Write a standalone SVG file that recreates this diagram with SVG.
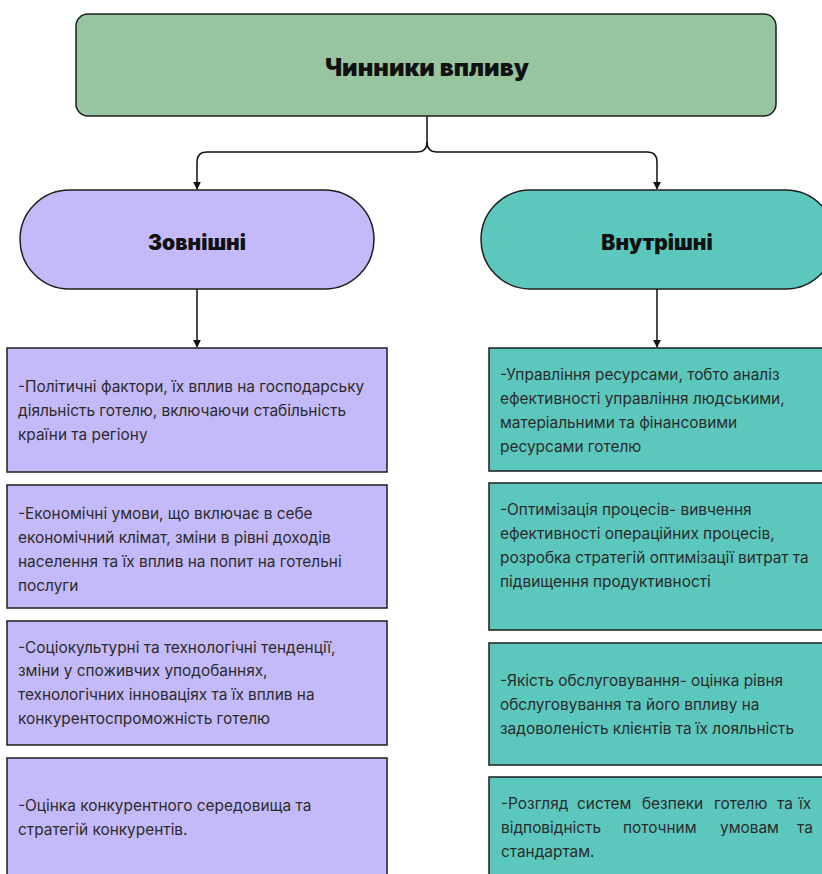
<svg xmlns="http://www.w3.org/2000/svg" width="822" height="874" viewBox="0 0 822 874">
<defs>
<marker id="ah" viewBox="0 0 10 10" refX="9" refY="5" markerWidth="8" markerHeight="8" markerUnits="userSpaceOnUse" orient="auto">
<path d="M0 0 L10 5 L0 10 z" fill="#111"/>
</marker>
<style>
.box{stroke:#1e1e1e;stroke-width:1.5}
.lav{fill:#c5baf9}
.teal{fill:#5cc8bd}
.green{fill:#96c5a0}
.h{font-family:Inter,"Liberation Sans",sans-serif;font-weight:900;font-size:21px;fill:#111;text-anchor:middle;dominant-baseline:central}
.big{font-size:24px}
.t{font-family:Inter,"Liberation Sans",sans-serif;font-size:15.4px;fill:#2b2b2b}
.c{fill:none;stroke:#111;stroke-width:1.5}
</style>
</defs>
<rect width="822" height="874" fill="#fff"/>
<g id="connectors">
<path class="c" d="M427 116 V142 Q427 152 417 152 H207 Q197 152 197 162 V189" marker-end="url(#ah)"/>
<path class="c" d="M427 142 Q427 152 437 152 H647 Q657 152 657 162 V189" marker-end="url(#ah)"/>
<path class="c" d="M197 289 V347" marker-end="url(#ah)"/>
<path class="c" d="M657 289 V347" marker-end="url(#ah)"/>
</g>
<g id="root">
<rect class="box green" x="76" y="14" width="700" height="102" rx="12" stroke-width="2"/>
<text class="h big" x="427" y="67">Чинники впливу</text>
</g>
<g id="ext">
<rect class="box lav" x="20" y="190" width="354" height="99" rx="49.5"/>
<text class="h" x="197" y="242">Зовнішні</text>
</g>
<g id="int">
<rect class="box teal" x="481" y="190" width="354" height="99" rx="49.5"/>
<text class="h" x="657" y="242">Внутрішні</text>
</g>
<g id="e1">
<rect class="box lav" x="7" y="348" width="380" height="124"/>
<text class="t"><tspan x="18" y="392">-Політичні фактори, їх вплив на господарську</tspan><tspan x="18" y="416">діяльність готелю, включаючи стабільність</tspan><tspan x="18" y="440">країни та регіону</tspan></text>
</g>
<g id="e2">
<rect class="box lav" x="7" y="485" width="380" height="123"/>
<text class="t"><tspan x="18" y="519">-Економічні умови, що включає в себе</tspan><tspan x="18" y="543">економічний клімат, зміни в рівні доходів</tspan><tspan x="18" y="567">населення та їх вплив на попит на готельні</tspan><tspan x="18" y="591">послуги</tspan></text>
</g>
<g id="e3">
<rect class="box lav" x="7" y="621" width="380" height="124"/>
<text class="t"><tspan x="18" y="653">-Соціокультурні та технологічні тенденції,</tspan><tspan x="18" y="676">зміни у споживчих уподобаннях,</tspan><tspan x="18" y="700">технологічних інноваціях та їх вплив на</tspan><tspan x="18" y="724">конкурентоспроможність готелю</tspan></text>
</g>
<g id="e4">
<rect class="box lav" x="7" y="758" width="380" height="130"/>
<text class="t"><tspan x="18" y="811">-Оцінка конкурентного середовища та</tspan><tspan x="18" y="835">стратегій конкурентів.</tspan></text>
</g>
<g id="i1">
<rect class="box teal" x="489" y="348" width="340" height="123"/>
<text class="t"><tspan x="500" y="380">-Управління ресурсами, тобто аналіз</tspan><tspan x="500" y="404">ефективності управління людськими,</tspan><tspan x="500" y="428">матеріальними та фінансовими</tspan><tspan x="500" y="452">ресурсами готелю</tspan></text>
</g>
<g id="i2">
<rect class="box teal" x="489" y="483" width="340" height="147"/>
<text class="t"><tspan x="500" y="515">-Оптимізація процесів- вивчення</tspan><tspan x="500" y="539">ефективності операційних процесів,</tspan><tspan x="500" y="563">розробка стратегій оптимізації витрат та</tspan><tspan x="500" y="587">підвищення продуктивності</tspan></text>
</g>
<g id="i3">
<rect class="box teal" x="489" y="643" width="340" height="122"/>
<text class="t"><tspan x="500" y="686">-Якість обслуговування- оцінка рівня</tspan><tspan x="500" y="710">обслуговування та його впливу на</tspan><tspan x="500" y="734">задоволеність клієнтів та їх лояльність</tspan></text>
</g>
<g id="i4">
<rect class="box teal" x="489" y="777" width="340" height="110"/>
<text class="t"><tspan x="501" y="809">-Розгляд</tspan> <tspan x="577" y="809">систем</tspan> <tspan x="642" y="809">безпеки</tspan> <tspan x="714" y="809">готелю</tspan> <tspan x="777" y="809">та</tspan> <tspan x="799" y="809">їх</tspan><tspan x="501" y="833">відповідність</tspan> <tspan x="623" y="833">поточним</tspan> <tspan x="720" y="833">умовам</tspan> <tspan x="797" y="833">та</tspan><tspan x="501" y="857">стандартам.</tspan></text>
</g>
</svg>
